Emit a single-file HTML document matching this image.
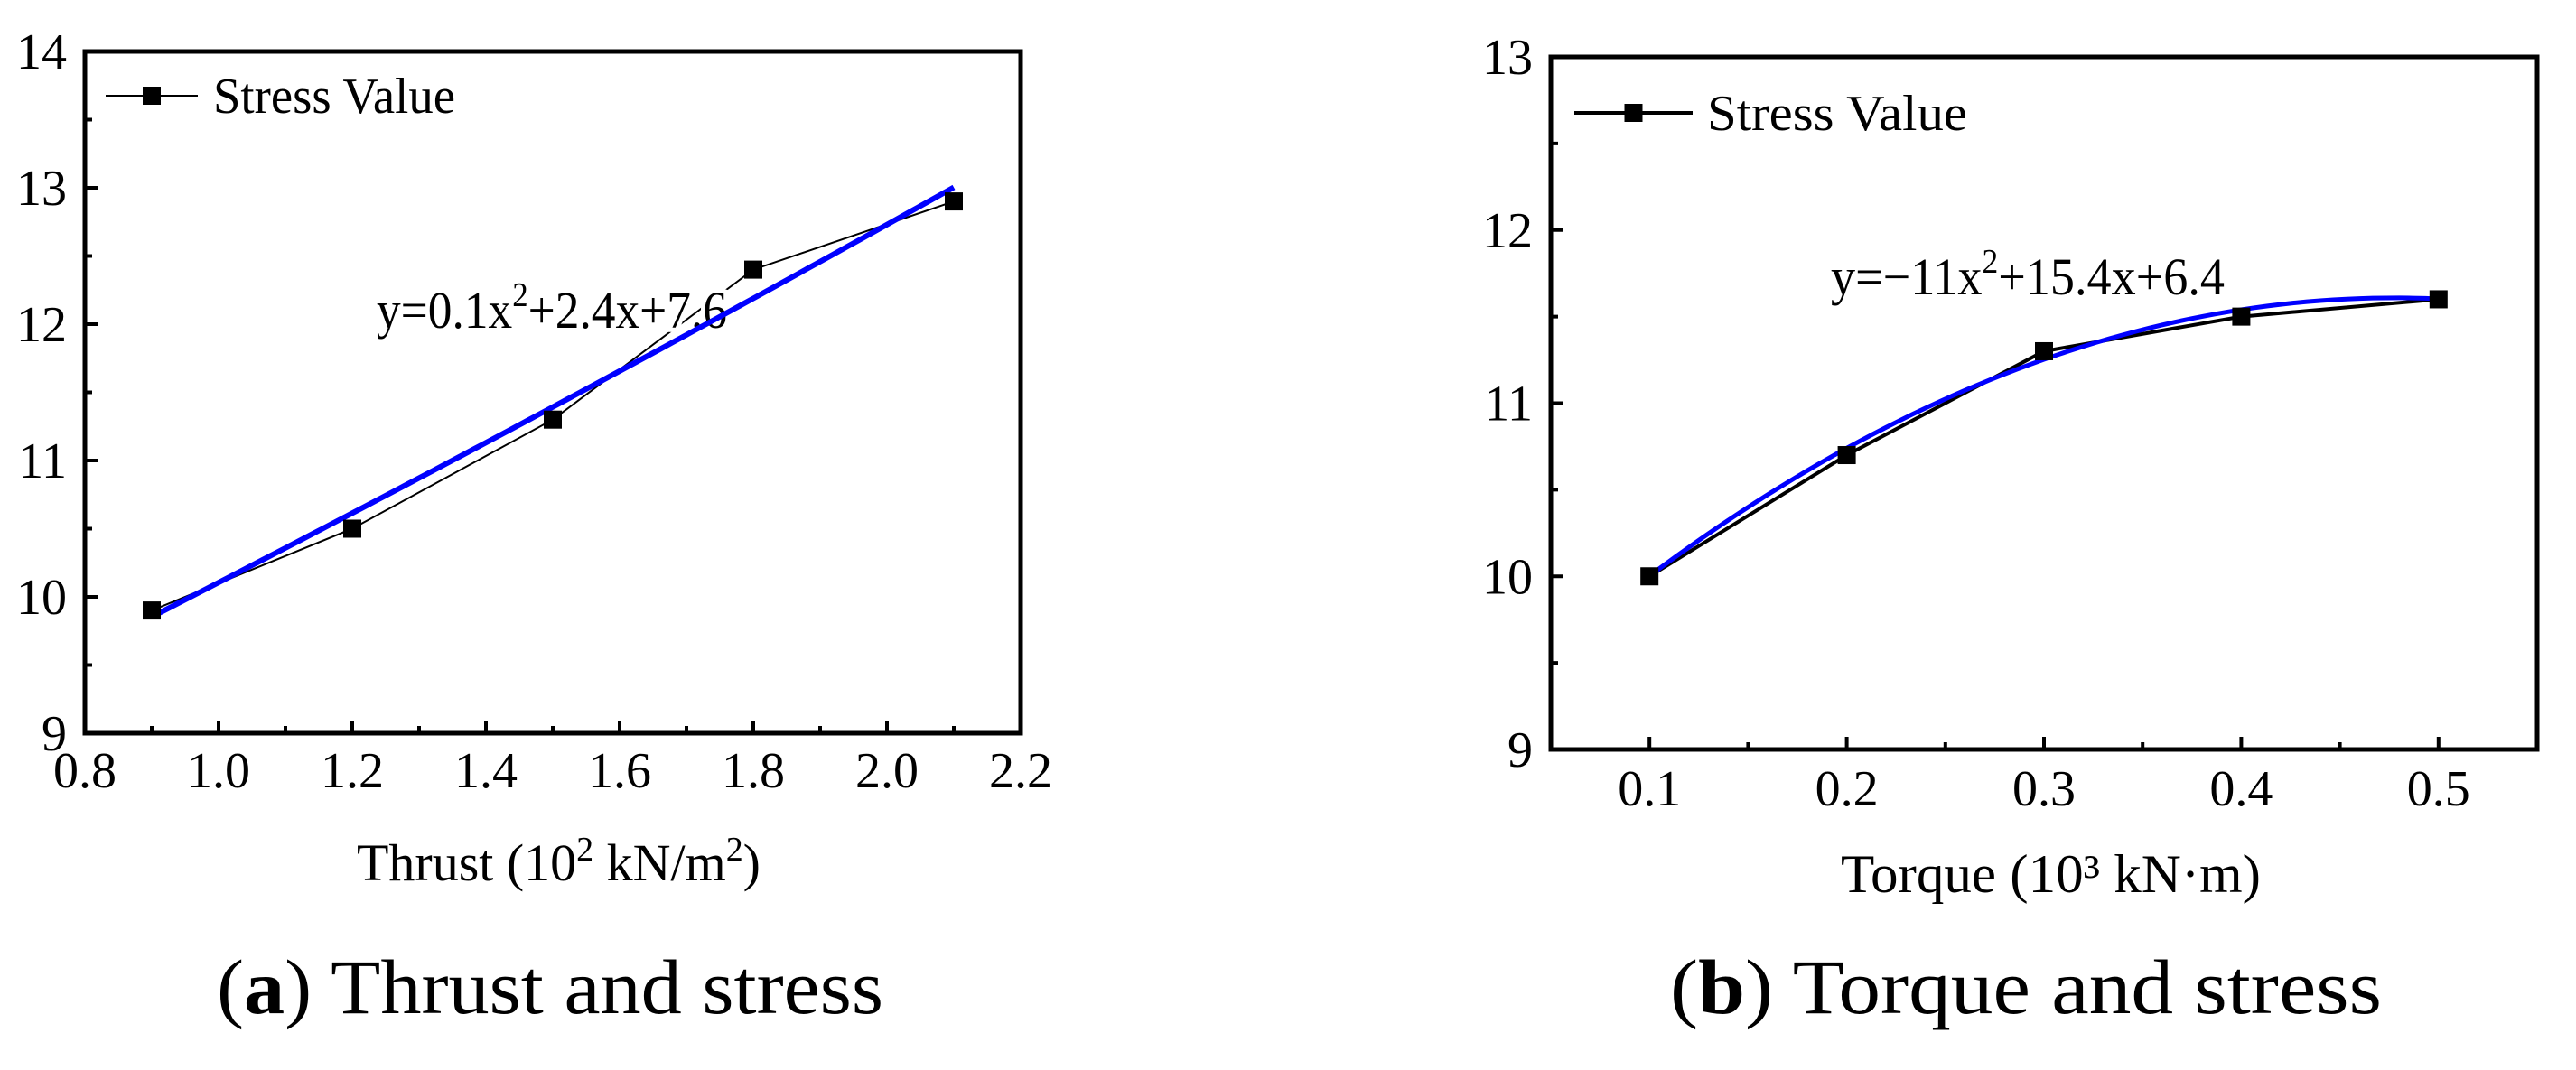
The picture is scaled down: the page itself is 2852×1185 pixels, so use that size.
<!DOCTYPE html>
<html><head><meta charset="utf-8">
<style>
html,body{margin:0;padding:0;background:#fff;}
svg{display:block;font-family:"Liberation Serif",serif;}
</style></head>
<body>
<svg id="fig" xmlns="http://www.w3.org/2000/svg" width="2852" height="1185" viewBox="0 0 2852 1185">
<rect width="2852" height="1185" fill="#fff"/>
<g id="pa"></g>
<g id="pb"></g>
<text x="395" y="975" font-size="58" textLength="447" lengthAdjust="spacingAndGlyphs">Thrust (10<tspan dy="-22" font-size="38">2</tspan><tspan dy="22"> kN/m</tspan><tspan dy="-22" font-size="38">2</tspan><tspan dy="22">)</tspan></text>
<text x="240" y="1122" font-size="86" textLength="738" lengthAdjust="spacingAndGlyphs">(<tspan font-weight="bold">a</tspan>) Thrust and stress</text>
<text x="2038" y="988" font-size="60" textLength="465" lengthAdjust="spacingAndGlyphs">Torque (10³ kN·m)</text>
<text x="1849" y="1122" font-size="86" textLength="788" lengthAdjust="spacingAndGlyphs">(<tspan font-weight="bold">b</tspan>) Torque and stress</text>
</svg>
<script>
// Chart (a) data
const thrustX = [0.9, 1.2, 1.5, 1.8, 2.1];
const thrustStress = [9.9, 10.5, 11.3, 12.4, 12.9];
const thrustFitCoef = [0.1, 2.325, 7.68];
const thrustXTicks = ["0.8","1.0","1.2","1.4","1.6","1.8","2.0","2.2"];
const thrustYTicks = ["9","10","11","12","13","14"];
// Chart (b) data
const torqueX = [0.1, 0.2, 0.3, 0.4, 0.5];
const torqueStress = [10.0, 10.7, 11.3, 11.5, 11.6];
const torqueFitCoef = [-11.25, 10.75, 9.04];
const torqueXTicks = ["0.1","0.2","0.3","0.4","0.5"];
const torqueYTicks = ["9","10","11","12","13"];

const NS = "http://www.w3.org/2000/svg";
function mk(parent, tag, attrs){const e=document.createElementNS(NS,tag);for(const k in attrs)e.setAttribute(k,attrs[k]);parent.appendChild(e);return e;}

function drawChart(g, cfg){
  const sx = v => cfg.L + (v - cfg.x0)/(cfg.x1 - cfg.x0)*(cfg.R - cfg.L);
  const sy = v => cfg.B - (v - cfg.y0)/(cfg.y1 - cfg.y0)*(cfg.B - cfg.T);
  cfg.yTicks.forEach(t=>{
    const v=parseFloat(t), y=sy(v);
    const tk=mk(g,"line",{x1:cfg.L,x2:cfg.L+14,y1:y,y2:y,stroke:"#000","stroke-width":4});
    
    
    const lb=mk(g,"text",{x:cfg.L-20,y:y+19,"font-size":56,"text-anchor":"end"});
    lb.textContent=t;
    
    
    if(v<cfg.y1){const m=sy(v+0.5);
      const mt=mk(g,"line",{x1:cfg.L,x2:cfg.L+8,y1:m,y2:m,stroke:"#000","stroke-width":4});
      
      }
  });
  cfg.xTicks.forEach((t,i)=>{
    const v=parseFloat(t), x=sx(v);
    const tk=mk(g,"line",{x1:x,x2:x,y1:cfg.B,y2:cfg.B-14,stroke:"#000","stroke-width":4});
    
    
    const lb=mk(g,"text",{x:x,y:cfg.B+cfg.xlOff,"font-size":56,"text-anchor":"middle"});
    lb.textContent=t;
    
    
  });
  cfg.minorX.forEach(v=>{const x=sx(v);
    const mt=mk(g,"line",{x1:x,x2:x,y1:cfg.B,y2:cfg.B-8,stroke:"#000","stroke-width":4});
    
    });
  const pts=cfg.xs.map((v,i)=>sx(v)+","+sy(cfg.ys[i])).join(" ");
  const pl=mk(g,"polyline",{points:pts,fill:"none",stroke:"#000","stroke-width":cfg.lw});
  
  
  const eq=mk(g,"text",{x:cfg.eqX,y:cfg.eqY,"font-size":58,textLength:cfg.eqW,lengthAdjust:"spacingAndGlyphs",stroke:"#fff","stroke-width":cfg.halo,"paint-order":"stroke"});
  eq.innerHTML=cfg.eq;
  
  
  const c=cfg.coef, f=[];
  const xa=cfg.xs[0], xb=cfg.xs[cfg.xs.length-1];
  for(let i=0;i<=60;i++){const v=xa+(xb-xa)*i/60;f.push(sx(v)+","+sy(c[0]*v*v+c[1]*v+c[2]));}
  const fl=mk(g,"polyline",{points:f.join(" "),fill:"none",stroke:"#0000ff","stroke-width":cfg.flw});
  
  
  cfg.xs.forEach((v,i)=>{
    const r=mk(g,"rect",{x:sx(v)-10,y:sy(cfg.ys[i])-10,width:20,height:20,fill:"#000"});
    
    
  });
  const fr=mk(g,"rect",{x:cfg.L,y:cfg.T,width:cfg.R-cfg.L,height:cfg.B-cfg.T,fill:"none",stroke:"#000","stroke-width":5});
  
  
  const lg=mk(g,"g",{});
  
  
  mk(lg,"line",{x1:cfg.lgX1,x2:cfg.lgX2,y1:cfg.lgY,y2:cfg.lgY,stroke:"#000","stroke-width":cfg.lw});
  const mx=(cfg.lgX1+cfg.lgX2)/2;
  mk(lg,"rect",{x:mx-10,y:cfg.lgY-10,width:20,height:20,fill:"#000"});
  const lt=mk(lg,"text",{x:cfg.lgTX,y:cfg.lgY+19,"font-size":56,textLength:cfg.lgTW,lengthAdjust:"spacingAndGlyphs"});
  lt.textContent="Stress Value";
}

drawChart(document.getElementById("pa"),{
  L:94,R:1130,T:57,B:812,x0:0.8,x1:2.2,y0:9,y1:14,
  xs:thrustX,ys:thrustStress,coef:thrustFitCoef,xTicks:thrustXTicks,yTicks:thrustYTicks,
  minorX:[0.9,1.1,1.3,1.5,1.7,1.9,2.1],xlOff:60,lw:2,flw:6,halo:10,
  eq:'y=0.1x<tspan dy="-24" font-size="38">2</tspan><tspan dy="24">+2.4x+7.6</tspan>',eqX:417,eqY:363,eqW:388,
  lgX1:117,lgX2:219,lgY:106,lgTX:236,lgTW:268
});
drawChart(document.getElementById("pb"),{
  L:1717,R:2809,T:63,B:830,x0:0.05,x1:0.55,y0:9,y1:13,
  xs:torqueX,ys:torqueStress,coef:torqueFitCoef,xTicks:torqueXTicks,yTicks:torqueYTicks,
  minorX:[0.15,0.25,0.35,0.45],xlOff:62,lw:4,flw:5,halo:0,
  eq:'y=−11x<tspan dy="-24" font-size="38">2</tspan><tspan dy="24">+15.4x+6.4</tspan>',eqX:2027,eqY:326,eqW:436,
  lgX1:1743,lgX2:1874,lgY:125,lgTX:1890,lgTW:288
});
</script>
</body></html>
